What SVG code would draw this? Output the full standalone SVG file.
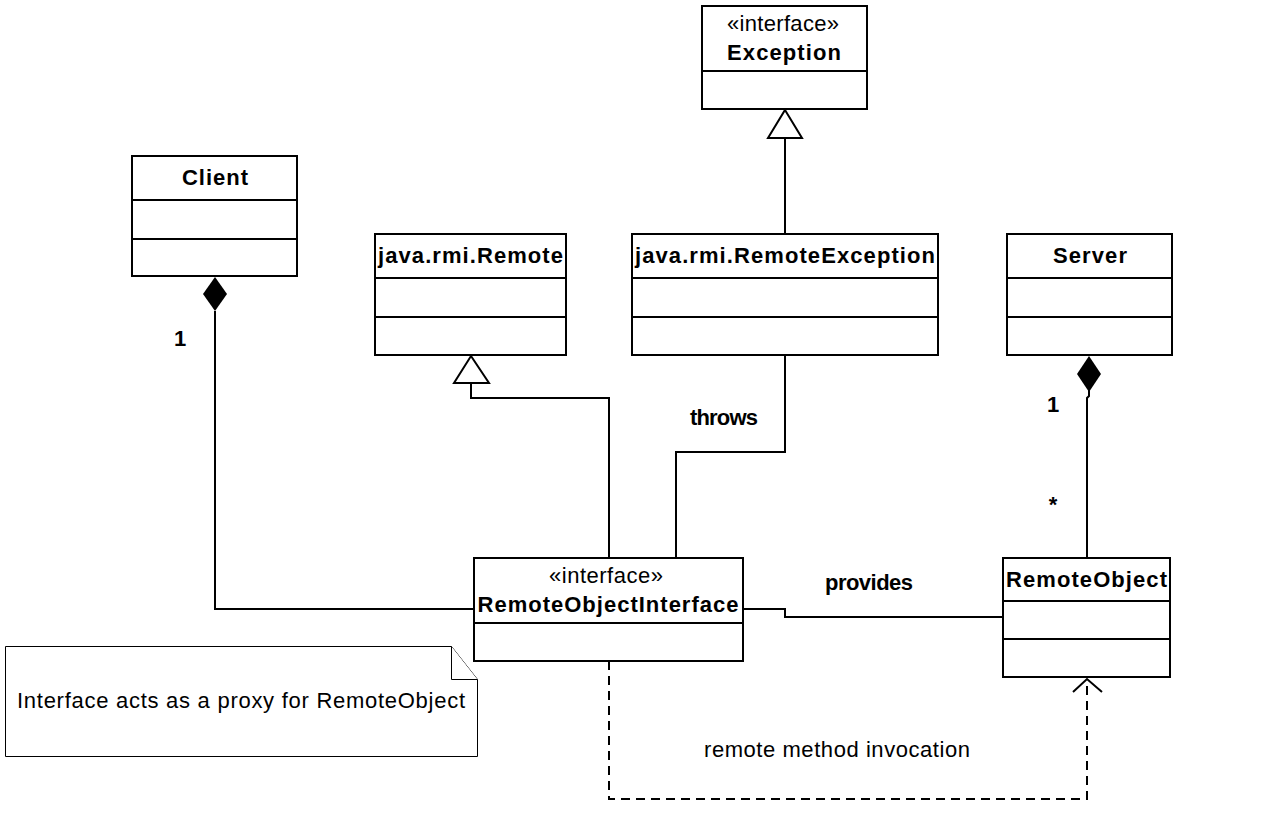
<svg xmlns="http://www.w3.org/2000/svg" width="1288" height="823" viewBox="0 0 1288 823">
<style>
.box{fill:#fff;stroke:#000;stroke-width:2}
.div{stroke:#000;stroke-width:2}
.ln{fill:none;stroke:#000;stroke-width:2}
.dash{fill:none;stroke:#000;stroke-width:2;stroke-dasharray:9 6}
.b{font-family:"Liberation Sans",Arial,sans-serif;font-weight:bold;font-size:22px;fill:#000}
.r{font-family:"Liberation Sans",Arial,sans-serif;font-size:22px;fill:#000}
.note{fill:#fff;stroke:#000;stroke-width:1}
</style>
<rect width="1288" height="823" fill="#fff"/>
<g id="connectors">
  <polyline class="ln" points="215,311 215,609 474,609"/>
  <polygon points="215,277 227,294 215,311 203,294" fill="#000"/>
  <polyline class="ln" points="785,138 785,234"/>
  <polygon points="785,110 802,138 768,138" fill="#fff" stroke="#000" stroke-width="2"/>
  <polyline class="ln" points="471,383 471,398 609,398 609,558"/>
  <polygon points="471,356 489,383 454,383" fill="#fff" stroke="#000" stroke-width="2"/>
  <polyline class="ln" points="785,355 785,452 676,452 676,558"/>
  <polyline class="ln" points="1089,390 1089,396 1087,398 1087,558"/>
  <polygon points="1089,356 1101,374 1089,392 1077,374" fill="#000"/>
  <polyline class="ln" points="743,609 785,609 785,617 1003,617"/>
  <polyline class="dash" points="609,661 609,799 1087,799 1087,680"/>
  <polyline class="ln" points="1073,692 1087,679 1102,692"/>
  <text class="b" x="180" y="346" text-anchor="middle" font-size="23">1</text>
  <text class="b" x="1053" y="412" text-anchor="middle" font-size="23">1</text>
  <text class="b" x="1053" y="512" text-anchor="middle" font-size="16">*</text>
  <text class="b" x="422" y="661" text-anchor="middle" font-size="16">*</text>
  <text class="b" x="724" y="425" text-anchor="middle" textLength="68" lengthAdjust="spacing">throws</text>
  <text class="b" x="869" y="590" text-anchor="middle" textLength="88" lengthAdjust="spacing">provides</text>
  <text class="r" x="837" y="757" text-anchor="middle" textLength="266" lengthAdjust="spacing">remote method invocation</text>
</g>
<g id="exception">
  <rect class="box" x="702" y="6" width="165" height="103"/>
  <line class="div" x1="702" y1="71" x2="867" y2="71"/>
  <text class="r" x="783" y="31" text-anchor="middle" textLength="112" lengthAdjust="spacing">«interface»</text>
  <text class="b" x="784" y="60" text-anchor="middle" textLength="114" lengthAdjust="spacing">Exception</text>
</g>
<g id="client">
  <rect class="box" x="132" y="156" width="165" height="120"/>
  <line class="div" x1="132" y1="200" x2="297" y2="200"/>
  <line class="div" x1="132" y1="239" x2="297" y2="239"/>
  <text class="b" x="215" y="185" text-anchor="middle" textLength="66" lengthAdjust="spacing">Client</text>
</g>
<g id="remote">
  <rect class="box" x="375" y="234" width="191" height="121"/>
  <line class="div" x1="375" y1="278" x2="566" y2="278"/>
  <line class="div" x1="375" y1="317" x2="566" y2="317"/>
  <text class="b" x="470.5" y="263" text-anchor="middle" textLength="185" lengthAdjust="spacing">java.rmi.Remote</text>
</g>
<g id="remoteexception">
  <rect class="box" x="632" y="234" width="306" height="121"/>
  <line class="div" x1="632" y1="278" x2="938" y2="278"/>
  <line class="div" x1="632" y1="317" x2="938" y2="317"/>
  <text class="b" x="785" y="263" text-anchor="middle" textLength="300" lengthAdjust="spacing">java.rmi.RemoteException</text>
</g>
<g id="server">
  <rect class="box" x="1007" y="234" width="165" height="121"/>
  <line class="div" x1="1007" y1="278" x2="1172" y2="278"/>
  <line class="div" x1="1007" y1="317" x2="1172" y2="317"/>
  <text class="b" x="1090" y="263" text-anchor="middle" textLength="74" lengthAdjust="spacing">Server</text>
</g>
<g id="remoteobjectinterface">
  <rect class="box" x="474" y="558" width="269" height="103"/>
  <line class="div" x1="474" y1="623" x2="743" y2="623"/>
  <text class="r" x="606" y="583" text-anchor="middle" textLength="114" lengthAdjust="spacing">«interface»</text>
  <text class="b" x="608" y="612" text-anchor="middle" textLength="261" lengthAdjust="spacing">RemoteObjectInterface</text>
</g>
<g id="remoteobject">
  <rect class="box" x="1003" y="558" width="167" height="119"/>
  <line class="div" x1="1003" y1="601" x2="1170" y2="601"/>
  <line class="div" x1="1003" y1="639" x2="1170" y2="639"/>
  <text class="b" x="1086.5" y="587" text-anchor="middle" textLength="161" lengthAdjust="spacing">RemoteObject</text>
</g>
<g id="note">
  <polygon class="note" points="5.5,646.5 451.5,646.5 477.5,679.5 477.5,756.5 5.5,756.5"/>
  <polyline class="note" points="451.5,646.5 451.5,679.5 477.5,679.5" fill="none"/>
  <text class="r" x="241" y="708" text-anchor="middle" textLength="448" lengthAdjust="spacing">Interface acts as a proxy for RemoteObject</text>
</g>
</svg>
